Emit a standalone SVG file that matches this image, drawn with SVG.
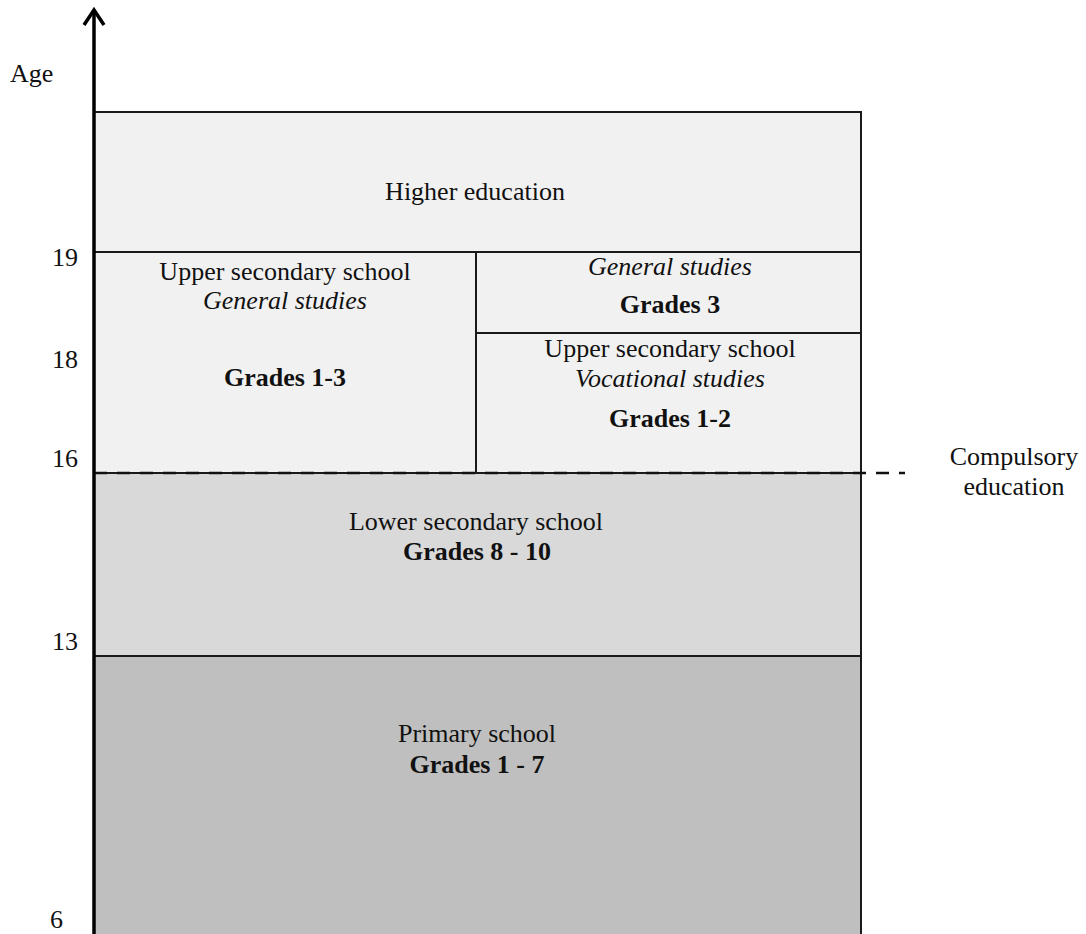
<svg xmlns="http://www.w3.org/2000/svg" width="1086" height="934" viewBox="0 0 1086 934">
<style>
text{font-family:"Liberation Serif","Times New Roman",serif;font-size:26px;fill:#111;}
.c{text-anchor:middle;}
.r{text-anchor:end;}
.i{font-style:italic;}
.b{font-weight:bold;}
.box{stroke:#1a1a1a;stroke-width:2;}
.light{fill:#f1f1f1;}
.mid{fill:#d9d9d9;}
.dark{fill:#bfbfbf;}
</style>
<rect width="1086" height="934" fill="#ffffff"/>
<g id="primary">
<rect class="box dark" x="94" y="656" width="767" height="290"/>
<text class="c" x="477" y="742">Primary school</text>
<text class="c b" x="477" y="773">Grades 1 - 7</text>
</g>
<g id="lower-secondary">
<rect class="box mid" x="94" y="473" width="767" height="183"/>
<text class="c" x="476" y="530">Lower secondary school</text>
<text class="c b" x="477" y="560">Grades 8 - 10</text>
</g>
<g id="higher-education">
<rect class="box light" x="94" y="112" width="767" height="140"/>
<text class="c" x="475" y="200">Higher education</text>
</g>
<g id="upper-general">
<rect class="box light" x="94" y="252" width="382" height="221"/>
<text class="c" x="285" y="280">Upper secondary school</text>
<text class="c i" x="285" y="309">General studies</text>
<text class="c b" x="285" y="386">Grades 1-3</text>
</g>
<g id="general-grade3">
<rect class="box light" x="476" y="252" width="385" height="81"/>
<text class="c i" x="670" y="275">General studies</text>
<text class="c b" x="670" y="313">Grades 3</text>
</g>
<g id="upper-vocational">
<rect class="box light" x="476" y="333" width="385" height="140"/>
<text class="c" x="670" y="357">Upper secondary school</text>
<text class="c i" x="670" y="387">Vocational studies</text>
<text class="c b" x="670" y="427">Grades 1-2</text>
</g>
<g id="connectors">
<line x1="94" y1="473" x2="905" y2="473" stroke="#111" stroke-width="2.5" stroke-dasharray="13 10"/>
<line x1="94" y1="10" x2="94" y2="934" stroke="#000" stroke-width="3.5"/>
<polyline points="84,25 94,10 104,25" fill="none" stroke="#000" stroke-width="3.5"/>
</g>
<g id="axis-labels">
<text x="10" y="82">Age</text>
<text x="52" y="266">19</text>
<text x="52" y="368">18</text>
<text x="52" y="467">16</text>
<text x="52" y="650">13</text>
<text x="50" y="928">6</text>
</g>
<g id="compulsory">
<text class="c" x="1014" y="465">Compulsory</text>
<text class="c" x="1014" y="495">education</text>
</g>
</svg>
